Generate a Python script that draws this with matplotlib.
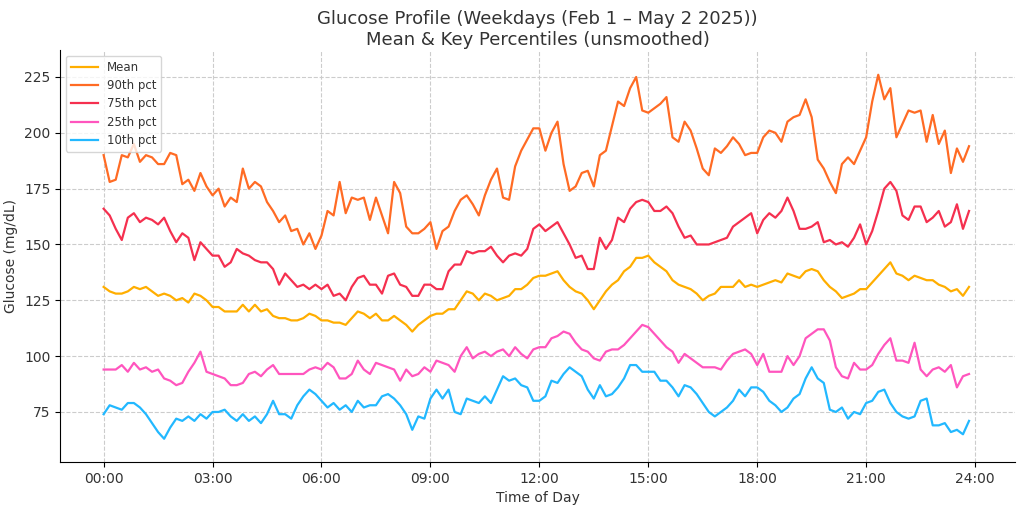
import numpy as np
import matplotlib
matplotlib.use("Agg")
import matplotlib.pyplot as plt

# time grid: every 10 minutes, in hours
hours = np.arange(144) / 6.0

mean_vals = [131,129,128,128,129,131,130,131,129,127,128,127,125,126,124,128,127,125,122,
             122,120,120,120,123,120,123,120,121,118,117,117,116,116,117,119,118,116,
             116,115,115,114,117,120,119,117,119,116,116,118,116,114,111,114,116,118,
             119,119,121,121,125,129,128,125,128,127,125,126,127,130,130,132,135,136,
             136,137,138,134,131,129,128,125,121,125,129,132,134,138,140,144,144,145,
             142,140,138,134,132,131,130,128,125,127,128,131,131,131,134,131,132,131,
             132,133,134,133,137,136,135,138,139,138,134,131,129,126,127,128,130,130,
             133,136,139,142,137,136,134,136,135,134,134,132,131,129,130,127,131]

p90_vals = [190,178,179,190,189,195,187,190,189,186,186,191,190,177,179,174,182,176,172,
            175,167,171,169,184,175,178,176,169,165,160,163,156,157,150,155,148,154,
            165,163,178,164,171,170,171,161,171,163,155,178,173,158,155,155,157,160,
            148,156,158,165,170,172,168,163,172,179,184,171,170,185,192,197,202,202,
            192,200,205,186,174,176,182,183,176,190,192,203,214,212,220,225,210,209,
            211,213,216,198,196,205,201,193,184,181,193,191,194,198,195,190,191,191,
            198,201,200,196,205,207,208,215,207,188,184,178,173,186,189,186,192,198,
            214,226,215,220,198,204,210,209,210,196,208,195,201,182,193,187,194]

p75_vals = [166,163,157,152,162,164,160,162,161,159,162,156,151,155,153,143,151,148,145,
            145,140,142,148,146,145,143,142,142,139,132,137,134,131,132,130,132,130,
            132,127,128,125,131,135,136,132,132,128,136,137,132,131,127,127,132,132,
            130,130,138,141,141,147,146,147,147,149,145,142,145,146,145,148,157,159,
            156,158,160,155,150,144,145,139,139,153,148,152,162,160,166,169,170,169,
            165,165,167,164,158,153,154,150,150,150,151,152,153,158,160,162,164,155,
            161,164,162,165,171,165,157,157,158,160,151,152,150,151,149,153,159,150,
            156,165,175,178,174,163,161,167,167,160,162,165,158,160,168,157,165]

p25_vals = [94,94,94,96,93,97,94,95,93,94,90,89,87,88,93,97,102,93,92,
            91,90,87,87,88,92,93,91,94,96,92,92,92,92,92,94,95,94,
            97,95,90,90,92,98,94,92,97,96,95,94,89,94,91,92,95,93,
            98,97,96,93,100,104,99,101,102,100,102,103,100,104,101,99,103,104,
            104,108,109,111,110,106,103,102,99,98,102,103,103,105,108,111,114,113,
            110,107,104,102,97,101,99,97,95,95,95,94,98,101,102,103,101,96,
            101,93,93,93,100,96,100,108,110,112,112,107,95,91,90,97,94,94,
            96,101,105,108,98,98,97,106,94,91,94,95,93,96,86,91,92]

p10_vals = [74,78,77,76,79,79,77,74,70,66,63,68,72,71,73,71,74,72,75,
            75,76,73,71,74,71,73,70,74,80,74,74,72,78,82,85,83,80,
            77,79,76,78,75,80,77,78,78,82,83,81,78,74,67,73,72,81,
            85,81,85,75,74,81,80,79,82,79,85,91,89,90,87,86,80,80,
            82,89,88,92,95,93,91,85,81,87,82,83,86,90,96,96,93,93,
            93,89,89,86,82,87,86,83,79,75,73,75,77,80,85,82,86,86,
            84,80,78,75,77,81,83,90,95,90,88,76,75,77,72,75,74,79,
            80,84,85,79,75,73,72,73,80,81,69,69,70,66,67,65,71]

series_labels = ["Mean", "90th pct", "75th pct", "25th pct", "10th pct"]
tick_hours = [0, 3, 6, 9, 12, 15, 18, 21, 24]
tick_labels = ["00:00", "03:00", "06:00", "09:00", "12:00", "15:00", "18:00", "21:00", "24:00"]
y_ticks = [75, 100, 125, 150, 175, 200, 225]

colors = ["#FFAE00", "#FF6B24", "#F5304F", "#FF55BE", "#22B8FF"]

fig = plt.figure(figsize=(10.23, 5.07), dpi=100)
ax = fig.add_axes([0.0587, 0.0888, 0.9335, 0.8122])

for vals, lab, c in zip([mean_vals, p90_vals, p75_vals, p25_vals, p10_vals], series_labels, colors):
    ax.plot(hours, vals, color=c, lw=1.6, label=lab)

ax.set_xlim(-1.2, 25.1)
ax.set_ylim(52.6, 237.0)
ax.set_xticks(tick_hours)
ax.set_xticklabels(tick_labels)
ax.set_yticks(y_ticks)
ax.grid(True, linestyle="--", color="#cccccc", linewidth=0.8)
ax.spines["top"].set_visible(False)
ax.spines["right"].set_visible(False)
ax.tick_params(labelsize=10, colors="#333333")
ax.tick_params(axis="both", color="black")
ax.set_xlabel("Time of Day", fontsize=10, color="#333333")
ax.set_ylabel("Glucose (mg/dL)", fontsize=10, color="#333333")
ax.set_title("Glucose Profile (Weekdays (Feb 1 – May 2 2025))\nMean & Key Percentiles (unsmoothed)",
             fontsize=13, color="#333333", pad=4)
leg = ax.legend(loc="upper left", fontsize=8.5, handlelength=2.3, labelspacing=0.45)
for t in leg.get_texts():
    t.set_color("#333333")

fig.savefig("out.png", dpi=100)
